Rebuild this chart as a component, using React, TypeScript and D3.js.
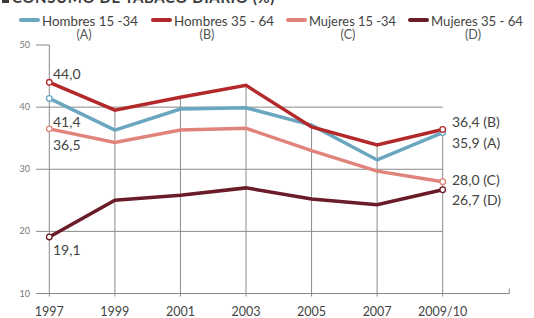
import * as d3 from 'd3';

const years = ['1997', '1999', '2001', '2003', '2005', '2007', '2009/10'];
const yTicks = [10, 20, 30, 40, 50];

const hombres1534 = [41.4, 36.3, 39.7, 39.9, 37.1, 31.5, 35.9];
const hombres3564 = [44.0, 39.5, 41.6, 43.5, 36.8, 33.9, 36.4];
const mujeres1534 = [36.5, 34.3, 36.3, 36.6, 33.0, 29.7, 28.0];
const mujeres3564 = [19.1, 25.0, 25.8, 27.0, 25.2, 24.3, 26.7];

const seriesNames = ['Hombres 15 -34', 'Hombres 35 - 64', 'Mujeres 15 -34', 'Mujeres 35 - 64'];
const seriesKeys = ['A', 'B', 'C', 'D'];
const seriesColors = ['#6aa6c0', '#b3292b', '#e0837b', '#6a1c28'];
const seriesValues = [hombres1534, hombres3564, mujeres1534, mujeres3564];

const fmt = (v: number) => v.toFixed(1).replace('.', ',');

export default function App() {
	const width = 534;
	const height = 318;
	const font = 'Lato, "Open Sans", sans-serif';

	const x = d3.scalePoint<string>().domain(years).range([49.3, 442.7]);
	const y = d3.scaleLinear().domain([10, 50]).range([293.5, 45]);

	const line = d3
		.line<number>()
		.x((_, i) => x(years[i]) as number)
		.y((d) => y(d));

	const last = years.length - 1;

	// legend positions (swatch start) and text widths
	const legendX = [21, 153, 288, 410];
	const legendW = [96, 100, 87, 92];
	const legendLabelX = [84, 207, 348, 473];

	// left and right end labels
	const leftLabels = [
		{ s: 1, dy: 73.5 },
		{ s: 0, dy: 122 },
		{ s: 2, dy: 145 },
		{ s: 3, dy: 250 },
	];
	const rightLabels = [
		{ s: 1, dy: 122 },
		{ s: 0, dy: 143 },
		{ s: 2, dy: 180 },
		{ s: 3, dy: 200 },
	];

	return (
		<svg
			width={width}
			height={height}
			style={{ position: 'fixed', top: 0, left: 0, background: '#fff', fontFamily: font }}
		>
			{/* title, cut at the top */}
			<rect x={2} y={-5} width={7} height={8} fill="#3a3a3a" />
			<text x={12} y={3} fontSize={15} fontWeight={700} fill="#3a3a3a" letterSpacing={0.6}>
				CONSUMO DE TABACO DIARIO (%)
			</text>

			{/* legend */}
			{seriesNames.map((name, i) => (
				<g key={name}>
					<line
						x1={legendX[i]}
						x2={legendX[i] + 17}
						y1={20}
						y2={20}
						stroke={seriesColors[i]}
						strokeWidth={4}
						strokeLinecap="round"
					/>
					<text
						x={legendX[i] + 21}
						y={25.5}
						fontSize={14}
						fill="#444"
						textLength={legendW[i]}
						lengthAdjust="spacingAndGlyphs"
					>
						{name}
					</text>
					<text x={legendLabelX[i]} y={39} fontSize={12.5} fill="#555" textAnchor="middle">
						({seriesKeys[i]})
					</text>
				</g>
			))}

			{/* horizontal grid */}
			{yTicks.map((t) => (
				<g key={t}>
					<line
						x1={36}
						x2={t === 10 ? 509.3 : t === 50 ? 49.3 : (x('2009/10') as number)}
						y1={y(t)}
						y2={y(t)}
						stroke="#8a8a8a"
						strokeWidth={1}
					/>
					<text x={30} y={y(t) + 3} fontSize={9} fill="#777" textAnchor="end">
						{t}
					</text>
				</g>
			))}
			<line x1={509.3} x2={509.3} y1={y(10) - 5} y2={y(10)} stroke="#8a8a8a" />

			{/* vertical grid */}
			{years.map((yr, i) => {
				const top = i === 0 ? 50 : (d3.max(seriesValues, (s) => s[i]) as number);
				return (
					<line
						key={yr}
						x1={x(yr)}
						x2={x(yr)}
						y1={y(10) + 3}
						y2={y(top)}
						stroke="#8a8a8a"
						strokeWidth={1}
					/>
				);
			})}

			{/* x labels */}
			{years.map((yr) => (
				<text key={yr} x={x(yr)} y={316} fontSize={12.5} fill="#444" textAnchor="middle">
					{yr}
				</text>
			))}

			{/* lines */}
			{seriesValues.map((vals, i) => (
				<path
					key={i}
					d={line(vals) as string}
					fill="none"
					stroke={seriesColors[i]}
					strokeWidth={3.5}
					strokeLinejoin="miter"
				/>
			))}

			{/* end markers */}
			{seriesValues.map((vals, i) => (
				<g key={'m' + i}>
					<circle cx={x(years[0])} cy={y(vals[0])} r={2.8} fill="#fff" stroke={seriesColors[i]} strokeWidth={1.3} />
					<circle cx={x(years[last])} cy={y(vals[last])} r={2.8} fill="#fff" stroke={seriesColors[i]} strokeWidth={1.3} />
				</g>
			))}

			{/* value labels */}
			{leftLabels.map((l) => (
				<text key={'l' + l.s} x={53} y={l.dy + 5} fontSize={14} fill="#444">
					{fmt(seriesValues[l.s][0])}
				</text>
			))}
			{rightLabels.map((l) => (
				<text key={'r' + l.s} x={452} y={l.dy + 5} fontSize={14} fill="#444">
					{fmt(seriesValues[l.s][last])}{'  '}({seriesKeys[l.s]})
				</text>
			))}
		</svg>
	);
}
